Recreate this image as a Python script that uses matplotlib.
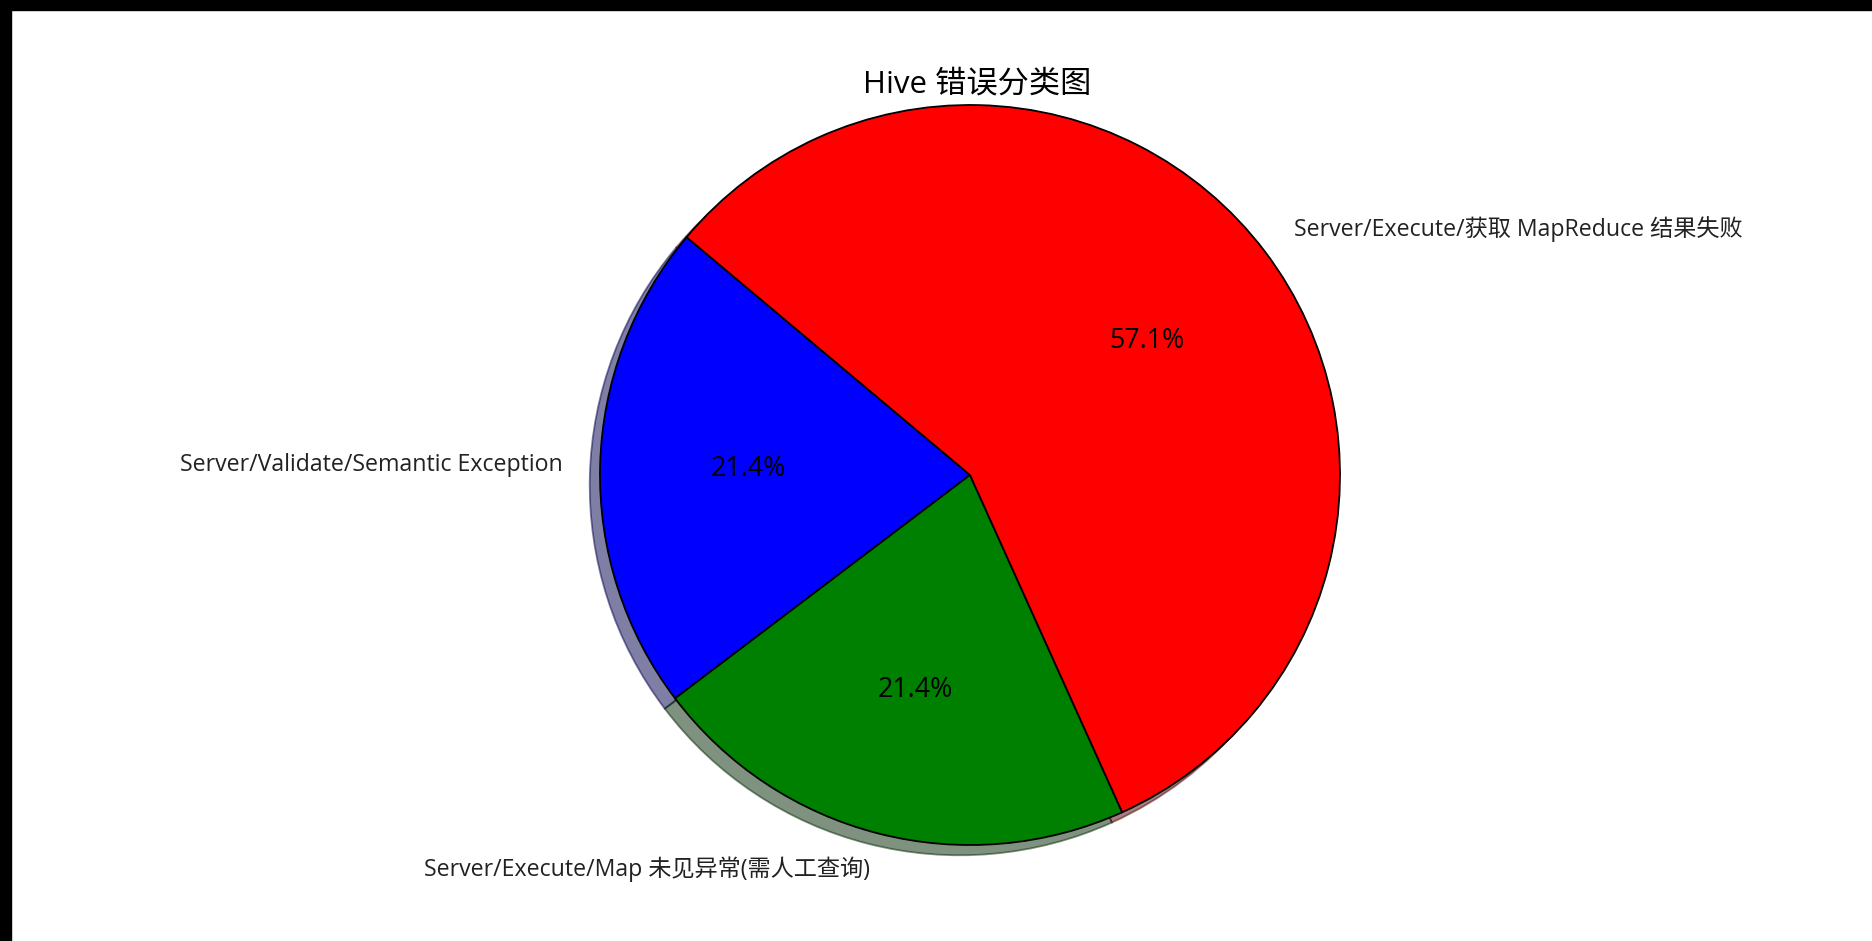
import matplotlib
matplotlib.use('Agg')
import matplotlib.pyplot as plt
from matplotlib.patches import Rectangle

plt.rcParams['font.family'] = ['Open Sans', 'Noto Sans CJK SC', 'DejaVu Sans']

labels = ['Server/Validate/Semantic Exception',
          'Server/Execute/Map 未见异常(需人工查询)',
          'Server/Execute/获取 MapReduce 结果失败']
counts = [3, 3, 8]
colors = ['blue', 'green', 'red']

W, H = 1872, 941
fig = plt.figure(figsize=(W / 100, H / 100), dpi=100)

# pie centre and radius in pixels (from top-left)
cx, cy, r = 970, 475, 370
left, right, top, bottom = 200, 1740, 95, 862
ax = fig.add_axes([left / W, 1 - bottom / H, (right - left) / W, (bottom - top) / H])

wedges, texts, autotexts = ax.pie(counts, labels=labels, colors=colors,
                                  autopct='%1.1f%%', shadow=True, startangle=140,
                                  wedgeprops={'edgecolor': 'black', 'linewidth': 1.3})
for t in texts:
    t.set_fontsize(16.7)
    t.set_color('#222222')
for t in autotexts:
    t.set_fontsize(19.3)

ax.set_xlim((left - cx) / r, (right - cx) / r)
ax.set_ylim((cy - bottom) / r, (cy - top) / r)
ax.set_aspect('auto')
ax.axis('off')

fig.text(977 / W, 1 - 84 / H, 'Hive 错误分类图', ha='center', va='center', fontsize=22.5)

# black strips along top and left edge
fig.patches.append(Rectangle((0, 1 - 10 / H), 1, 10 / H, transform=fig.transFigure,
                             color='black', zorder=10))
fig.patches.append(Rectangle((0, 0), 11 / W, 1, transform=fig.transFigure,
                             color='black', zorder=10))

fig.savefig('out.png', dpi=100)
